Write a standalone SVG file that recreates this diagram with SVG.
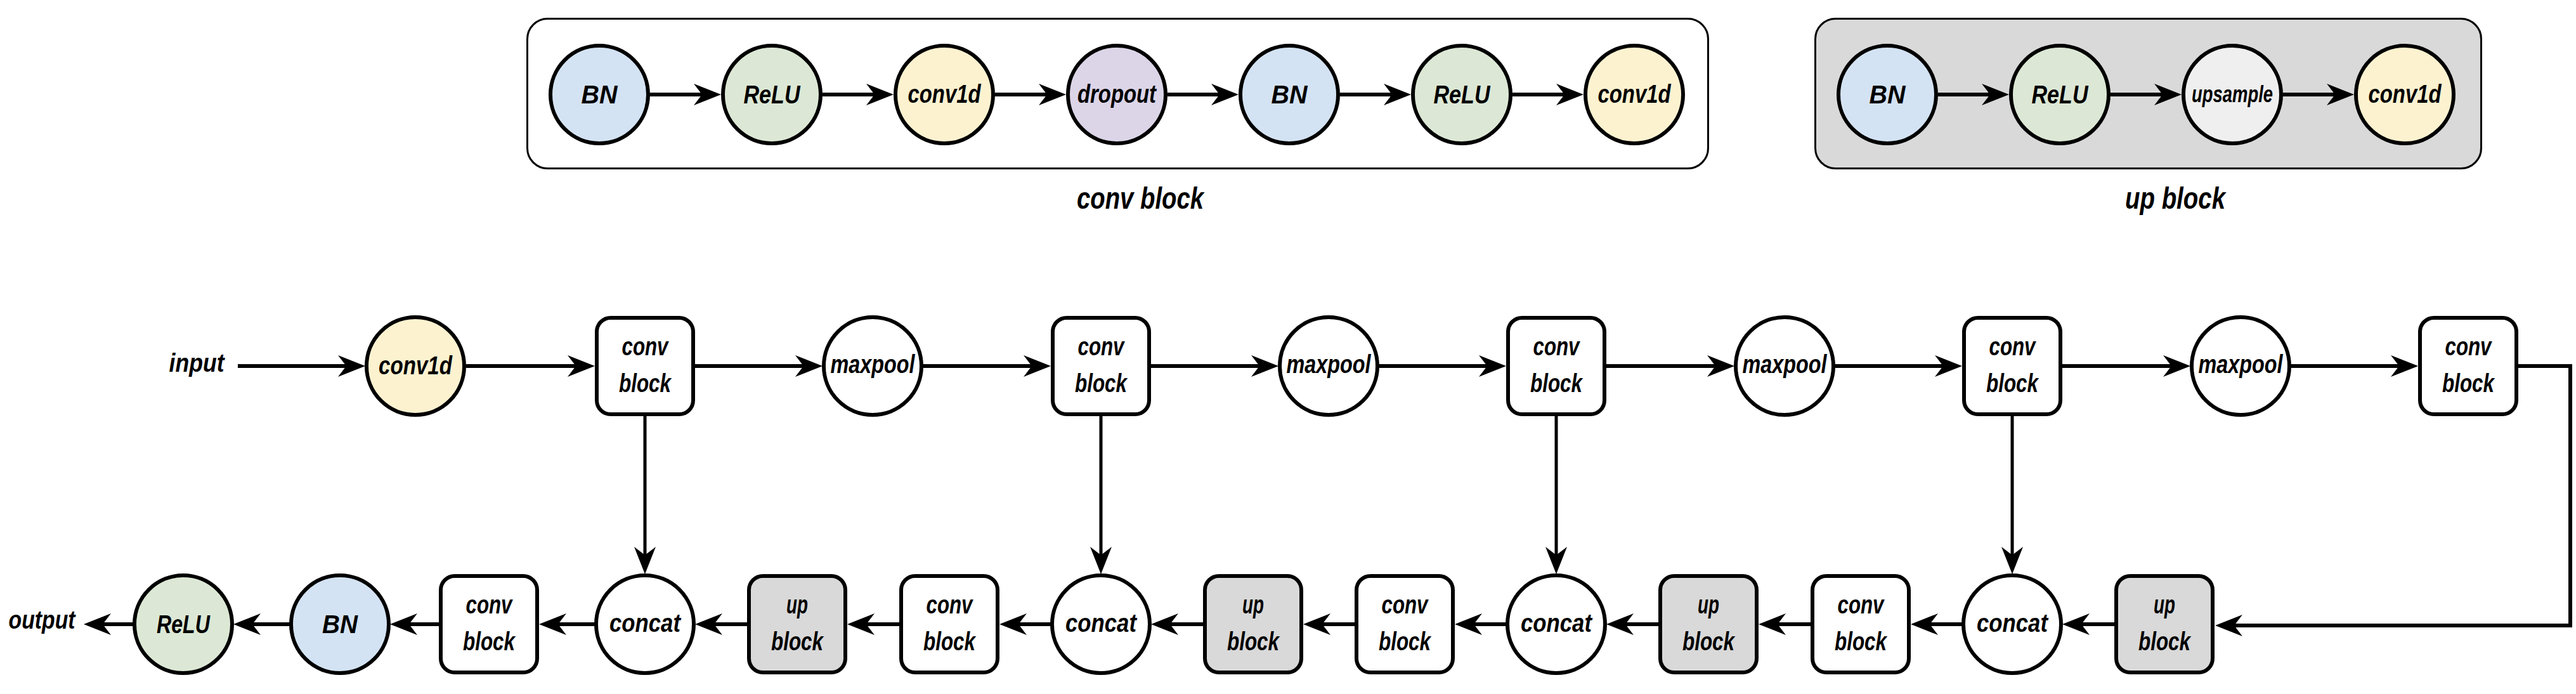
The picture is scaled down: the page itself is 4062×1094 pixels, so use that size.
<svg xmlns="http://www.w3.org/2000/svg" width="4062" height="1094" viewBox="0 0 4062 1094">
<defs>
<style>
.t{font-family:"Liberation Sans Narrow","Liberation Sans",sans-serif;font-style:italic;font-weight:bold;font-size:40px;text-anchor:middle;fill:#000}
.lbl{font-size:48px}
.n{stroke:#000;stroke-width:6}
.w{fill:#fff}
.g{fill:#d9d9d9}
.bn{fill:#d4e3f3}
.re{fill:#dce8d5}
.cv{fill:#fdf2d0}
.dr{fill:#dcd5e8}
.up{fill:#efefef}
.frame{stroke:#000;stroke-width:3}
.c{fill:none;stroke:#000;stroke-width:6}
.v{fill:none;stroke:#000;stroke-width:5}
</style>
<marker id="ah" markerUnits="userSpaceOnUse" markerWidth="50" markerHeight="40" viewBox="-15 -20 50 40" refX="0" refY="0" orient="auto" overflow="visible"><path d="M30,0 L-13,-17 L0,0 L-13,17 Z" fill="#000"/></marker>
</defs>
<rect width="4062" height="1094" fill="#fff"/>

<g id="conv-block-detail">
<rect class="frame" x="831.5" y="29.5" width="1862" height="236" rx="32" fill="#fff"/>
<text class="t lbl" x="1798" y="329" textLength="200" lengthAdjust="spacingAndGlyphs">conv block</text>
</g>
<g id="up-block-detail">
<rect class="frame" x="2862.5" y="29.5" width="1050" height="236" rx="32" fill="#d9d9d9"/>
<text class="t lbl" x="3430" y="329" textLength="158" lengthAdjust="spacingAndGlyphs">up block</text>
</g>

<g id="connectors">
<path class="c" marker-end="url(#ah)" d="M1025,149 H1107"/>
<path class="c" marker-end="url(#ah)" d="M1297,149 H1379"/>
<path class="c" marker-end="url(#ah)" d="M1569,149 H1651"/>
<path class="c" marker-end="url(#ah)" d="M1841,149 H1923"/>
<path class="c" marker-end="url(#ah)" d="M2113,149 H2195"/>
<path class="c" marker-end="url(#ah)" d="M2385,149 H2467"/>
<path class="c" marker-end="url(#ah)" d="M3056,149 H3138"/>
<path class="c" marker-end="url(#ah)" d="M3328,149 H3410"/>
<path class="c" marker-end="url(#ah)" d="M3600,149 H3682"/>
<path class="c" marker-end="url(#ah)" d="M375,577 H546"/>
<path class="c" marker-end="url(#ah)" d="M735,577 H908"/>
<path class="c" marker-end="url(#ah)" d="M1096,577 H1267"/>
<path class="c" marker-end="url(#ah)" d="M1455,577 H1627"/>
<path class="c" marker-end="url(#ah)" d="M1815,577 H1986"/>
<path class="c" marker-end="url(#ah)" d="M2174,577 H2345"/>
<path class="c" marker-end="url(#ah)" d="M2533,577 H2705"/>
<path class="c" marker-end="url(#ah)" d="M2893,577 H3064"/>
<path class="c" marker-end="url(#ah)" d="M3252,577 H3424"/>
<path class="c" marker-end="url(#ah)" d="M3612,577 H3783"/>
<path class="c" marker-end="url(#ah)" d="M3971,577 H4053 V986 H3523"/>
<path class="v" marker-end="url(#ah)" d="M1017,656 V875"/>
<path class="v" marker-end="url(#ah)" d="M1736,656 V875"/>
<path class="v" marker-end="url(#ah)" d="M2454,656 V875"/>
<path class="v" marker-end="url(#ah)" d="M3173,656 V875"/>
<path class="c" marker-end="url(#ah)" d="M3334,984 H3282"/>
<path class="c" marker-end="url(#ah)" d="M3094,984 H3043"/>
<path class="c" marker-end="url(#ah)" d="M2855,984 H2803"/>
<path class="c" marker-end="url(#ah)" d="M2615,984 H2563"/>
<path class="c" marker-end="url(#ah)" d="M2375,984 H2324"/>
<path class="c" marker-end="url(#ah)" d="M2136,984 H2085"/>
<path class="c" marker-end="url(#ah)" d="M1897,984 H1845"/>
<path class="c" marker-end="url(#ah)" d="M1657,984 H1606"/>
<path class="c" marker-end="url(#ah)" d="M1418,984 H1366"/>
<path class="c" marker-end="url(#ah)" d="M1178,984 H1126"/>
<path class="c" marker-end="url(#ah)" d="M938,984 H880"/>
<path class="c" marker-end="url(#ah)" d="M692,984 H645"/>
<path class="c" marker-end="url(#ah)" d="M457,984 H398"/>
<path class="c" marker-end="url(#ah)" d="M210,984 H162"/>
</g>

<g id="cb-bn1"><circle class="n bn" cx="945" cy="149" r="77"/><text class="t" x="945" y="163" textLength="57" lengthAdjust="spacingAndGlyphs">BN</text></g>
<g id="cb-relu1"><circle class="n re" cx="1217" cy="149" r="77"/><text class="t" x="1217" y="163" textLength="89" lengthAdjust="spacingAndGlyphs">ReLU</text></g>
<g id="cb-conv1"><circle class="n cv" cx="1489" cy="149" r="77"/><text class="t" x="1489" y="162" textLength="115" lengthAdjust="spacingAndGlyphs">conv1d</text></g>
<g id="cb-dropout"><circle class="n dr" cx="1761" cy="149" r="77"/><text class="t" x="1761" y="162" textLength="124" lengthAdjust="spacingAndGlyphs">dropout</text></g>
<g id="cb-bn2"><circle class="n bn" cx="2033" cy="149" r="77"/><text class="t" x="2033" y="163" textLength="57" lengthAdjust="spacingAndGlyphs">BN</text></g>
<g id="cb-relu2"><circle class="n re" cx="2305" cy="149" r="77"/><text class="t" x="2305" y="163" textLength="89" lengthAdjust="spacingAndGlyphs">ReLU</text></g>
<g id="cb-conv2"><circle class="n cv" cx="2577" cy="149" r="77"/><text class="t" x="2577" y="162" textLength="115" lengthAdjust="spacingAndGlyphs">conv1d</text></g>

<g id="ub-bn"><circle class="n bn" cx="2976" cy="149" r="77"/><text class="t" x="2976" y="163" textLength="57" lengthAdjust="spacingAndGlyphs">BN</text></g>
<g id="ub-relu"><circle class="n re" cx="3248" cy="149" r="77"/><text class="t" x="3248" y="163" textLength="89" lengthAdjust="spacingAndGlyphs">ReLU</text></g>
<g id="ub-upsample"><circle class="n up" cx="3520" cy="149" r="77"/><text class="t" x="3520" y="161" style="font-size:36px" textLength="128" lengthAdjust="spacingAndGlyphs">upsample</text></g>
<g id="ub-conv"><circle class="n cv" cx="3792" cy="149" r="77"/><text class="t" x="3792" y="162" textLength="115" lengthAdjust="spacingAndGlyphs">conv1d</text></g>

<g id="input"><text class="t" x="310" y="586" textLength="87" lengthAdjust="spacingAndGlyphs">input</text></g>
<g id="conv1d-in"><circle class="n cv" cx="655" cy="577" r="77"/><text class="t" x="655" y="590" textLength="116" lengthAdjust="spacingAndGlyphs">conv1d</text></g>
<g id="enc-cb1"><rect class="n w" x="941" y="501" width="152" height="152" rx="22"/><text class="t" x="1017" y="560" textLength="73" lengthAdjust="spacingAndGlyphs">conv</text><text class="t" x="1017" y="618" textLength="82" lengthAdjust="spacingAndGlyphs">block</text></g>
<g id="enc-mp1"><circle class="n w" cx="1376" cy="577" r="77"/><text class="t" x="1376" y="588" textLength="133" lengthAdjust="spacingAndGlyphs">maxpool</text></g>
<g id="enc-cb2"><rect class="n w" x="1660" y="501" width="152" height="152" rx="22"/><text class="t" x="1736" y="560" textLength="73" lengthAdjust="spacingAndGlyphs">conv</text><text class="t" x="1736" y="618" textLength="82" lengthAdjust="spacingAndGlyphs">block</text></g>
<g id="enc-mp2"><circle class="n w" cx="2095" cy="577" r="77"/><text class="t" x="2095" y="588" textLength="133" lengthAdjust="spacingAndGlyphs">maxpool</text></g>
<g id="enc-cb3"><rect class="n w" x="2378" y="501" width="152" height="152" rx="22"/><text class="t" x="2454" y="560" textLength="73" lengthAdjust="spacingAndGlyphs">conv</text><text class="t" x="2454" y="618" textLength="82" lengthAdjust="spacingAndGlyphs">block</text></g>
<g id="enc-mp3"><circle class="n w" cx="2814" cy="577" r="77"/><text class="t" x="2814" y="588" textLength="133" lengthAdjust="spacingAndGlyphs">maxpool</text></g>
<g id="enc-cb4"><rect class="n w" x="3097" y="501" width="152" height="152" rx="22"/><text class="t" x="3173" y="560" textLength="73" lengthAdjust="spacingAndGlyphs">conv</text><text class="t" x="3173" y="618" textLength="82" lengthAdjust="spacingAndGlyphs">block</text></g>
<g id="enc-mp4"><circle class="n w" cx="3533" cy="577" r="77"/><text class="t" x="3533" y="588" textLength="133" lengthAdjust="spacingAndGlyphs">maxpool</text></g>
<g id="enc-cb5"><rect class="n w" x="3816" y="501" width="152" height="152" rx="22"/><text class="t" x="3892" y="560" textLength="73" lengthAdjust="spacingAndGlyphs">conv</text><text class="t" x="3892" y="618" textLength="82" lengthAdjust="spacingAndGlyphs">block</text></g>

<g id="dec-ub4"><rect class="n g" x="3337" y="908" width="152" height="152" rx="22"/><text class="t" x="3413" y="967" textLength="34" lengthAdjust="spacingAndGlyphs">up</text><text class="t" x="3413" y="1025" textLength="82" lengthAdjust="spacingAndGlyphs">block</text></g>
<g id="dec-cat4"><circle class="n w" cx="3173" cy="984" r="77"/><text class="t" x="3173" y="996" textLength="112" lengthAdjust="spacingAndGlyphs">concat</text></g>
<g id="dec-cb4"><rect class="n w" x="2858" y="908" width="152" height="152" rx="22"/><text class="t" x="2934" y="967" textLength="73" lengthAdjust="spacingAndGlyphs">conv</text><text class="t" x="2934" y="1025" textLength="82" lengthAdjust="spacingAndGlyphs">block</text></g>
<g id="dec-ub3"><rect class="n g" x="2618" y="908" width="152" height="152" rx="22"/><text class="t" x="2694" y="967" textLength="34" lengthAdjust="spacingAndGlyphs">up</text><text class="t" x="2694" y="1025" textLength="82" lengthAdjust="spacingAndGlyphs">block</text></g>
<g id="dec-cat3"><circle class="n w" cx="2454" cy="984" r="77"/><text class="t" x="2454" y="996" textLength="112" lengthAdjust="spacingAndGlyphs">concat</text></g>
<g id="dec-cb3"><rect class="n w" x="2139" y="908" width="152" height="152" rx="22"/><text class="t" x="2215" y="967" textLength="73" lengthAdjust="spacingAndGlyphs">conv</text><text class="t" x="2215" y="1025" textLength="82" lengthAdjust="spacingAndGlyphs">block</text></g>
<g id="dec-ub2"><rect class="n g" x="1900" y="908" width="152" height="152" rx="22"/><text class="t" x="1976" y="967" textLength="34" lengthAdjust="spacingAndGlyphs">up</text><text class="t" x="1976" y="1025" textLength="82" lengthAdjust="spacingAndGlyphs">block</text></g>
<g id="dec-cat2"><circle class="n w" cx="1736" cy="984" r="77"/><text class="t" x="1736" y="996" textLength="112" lengthAdjust="spacingAndGlyphs">concat</text></g>
<g id="dec-cb2"><rect class="n w" x="1421" y="908" width="152" height="152" rx="22"/><text class="t" x="1497" y="967" textLength="73" lengthAdjust="spacingAndGlyphs">conv</text><text class="t" x="1497" y="1025" textLength="82" lengthAdjust="spacingAndGlyphs">block</text></g>
<g id="dec-ub1"><rect class="n g" x="1181" y="908" width="152" height="152" rx="22"/><text class="t" x="1257" y="967" textLength="34" lengthAdjust="spacingAndGlyphs">up</text><text class="t" x="1257" y="1025" textLength="82" lengthAdjust="spacingAndGlyphs">block</text></g>
<g id="dec-cat1"><circle class="n w" cx="1017" cy="984" r="77"/><text class="t" x="1017" y="996" textLength="112" lengthAdjust="spacingAndGlyphs">concat</text></g>
<g id="dec-cb1"><rect class="n w" x="695" y="908" width="152" height="152" rx="22"/><text class="t" x="771" y="967" textLength="73" lengthAdjust="spacingAndGlyphs">conv</text><text class="t" x="771" y="1025" textLength="82" lengthAdjust="spacingAndGlyphs">block</text></g>
<g id="out-bn"><circle class="n bn" cx="536" cy="984" r="77"/><text class="t" x="536" y="998" textLength="56" lengthAdjust="spacingAndGlyphs">BN</text></g>
<g id="out-relu"><circle class="n re" cx="289" cy="984" r="77"/><text class="t" x="289" y="998" textLength="84" lengthAdjust="spacingAndGlyphs">ReLU</text></g>
<g id="output"><text class="t" x="66" y="991" textLength="105" lengthAdjust="spacingAndGlyphs">output</text></g>
</svg>
